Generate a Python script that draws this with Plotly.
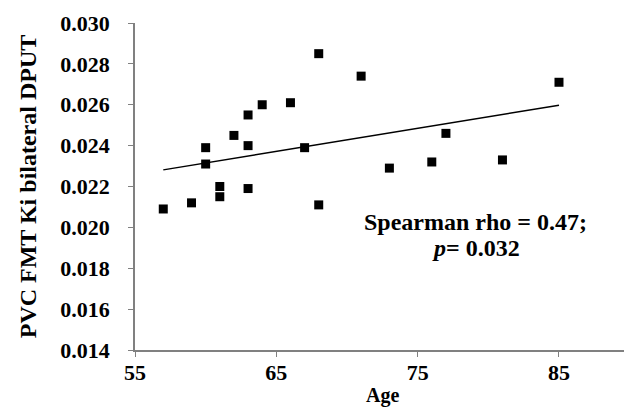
import numpy as np
import plotly.graph_objects as go

age = [57, 59, 60, 60, 61, 61, 62, 63, 63, 63, 64, 66, 67, 68, 68, 71, 73, 76, 77, 81, 85]
ki = [0.0209, 0.0212, 0.0239, 0.0231, 0.0220, 0.0215, 0.0245, 0.0255, 0.0240, 0.0219,
      0.0260, 0.0261, 0.0239, 0.0285, 0.0211, 0.0274, 0.0229, 0.0232, 0.0246, 0.0233, 0.0271]
x_ticks = [55, 65, 75, 85]
y_ticks = [0.014, 0.016, 0.018, 0.020, 0.022, 0.024, 0.026, 0.028, 0.030]

slope, intercept = np.polyfit(age, ki, 1)
fit_x = [min(age), max(age)]
fit_y = [slope * v + intercept for v in fit_x]

FONT = "Liberation Serif, Times New Roman, serif"

fig = go.Figure()
fig.add_trace(go.Scatter(x=age, y=ki, mode="markers",
                         marker=dict(symbol="square", size=9, color="black"),
                         showlegend=False))
fig.add_trace(go.Scatter(x=fit_x, y=fit_y, mode="lines",
                         line=dict(color="black", width=1.5), showlegend=False))

fig.add_annotation(x=79.1, y=0.02025, xref="x", yref="y",
                   text="<b>Spearman rho = 0.47;</b>",
                   showarrow=False, yanchor="middle", borderpad=0,
                   font=dict(family=FONT, size=24, color="black"))
fig.add_annotation(x=79.1, y=0.0190, xref="x", yref="y",
                   text="<b><i>p</i>= 0.032</b>",
                   showarrow=False, yanchor="middle", borderpad=0,
                   font=dict(family=FONT, size=24, color="black"))

fig.add_annotation(x=0.507, y=-0.138, xref="paper", yref="paper",
                   text="<b>Age</b>", showarrow=False, yanchor="middle",
                   font=dict(family=FONT, size=20, color="black"))

fig.update_layout(
    width=624, height=408,
    margin=dict(l=135, r=0, t=23, b=58),
    paper_bgcolor="white", plot_bgcolor="white",
    font=dict(family=FONT, color="black"),
    xaxis=dict(range=[55, 89.6], tickvals=x_ticks,
               ticktext=[f"<b>{v}</b>" for v in x_ticks],
               showgrid=False, zeroline=False, showline=True, linecolor="#808080",
               linewidth=1.5, ticks="outside", ticklen=5, tickcolor="#808080",
               tickfont=dict(family=FONT, size=22, color="black"),
               ticklabelstandoff=-3),
    yaxis=dict(range=[0.014, 0.030], tickvals=y_ticks,
               ticktext=[f"<b>{v:.3f}</b>" for v in y_ticks],
               showgrid=False, zeroline=False, showline=True, linecolor="#808080",
               linewidth=1.5, ticks="outside", ticklen=5, tickcolor="#808080",
               tickfont=dict(family=FONT, size=22, color="black"),
               ticklabelstandoff=14,
               title=dict(text="<b>PVC FMT Ki bilateral DPUT</b>",
                          font=dict(family=FONT, size=24, color="black"),
                          standoff=17)),
)

fig.write_html("out.html", config={"displayModeBar": False},
               post_script="document.body.style.margin='0';")
